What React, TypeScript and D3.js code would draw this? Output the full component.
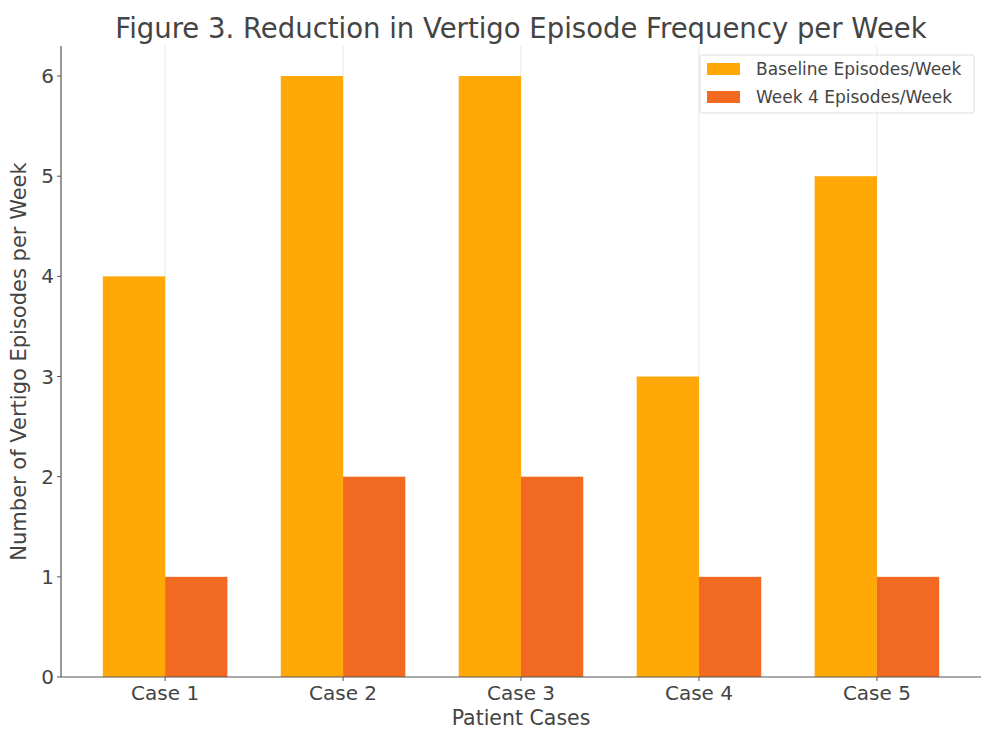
import React from "react";
import * as d3 from "d3";

const categories = ["Case 1", "Case 2", "Case 3", "Case 4", "Case 5"];
const baseline = [4, 6, 6, 3, 5];
const week4 = [1, 2, 2, 1, 1];
const yTicks = [0, 1, 2, 3, 4, 5, 6];
const seriesNames = ["Baseline Episodes/Week", "Week 4 Episodes/Week"];
const colors = ["#FFA807", "#F26A22"];

export default function App() {
  const W = 981, H = 731;
  const left = 61, right = 981, top = 46, bottom = 677;
  const x = d3.scaleLinear().domain([-0.585, 4.585]).range([left, right]);
  const y = d3.scaleLinear().domain([0, 6.3]).range([bottom, top]);
  const bw = 0.35;
  const font = "DejaVu Sans, sans-serif";
  const textColor = "#444";
  return (
    <svg width={W} height={H} style={{ position: "absolute", left: 0, top: 0 }} fontFamily={font}>
      <rect x={0} y={0} width={W} height={H} fill="#fff" />
      {categories.map((c, i) => (
        <line key={"g" + i} x1={x(i)} x2={x(i)} y1={top} y2={bottom} stroke="#e6e6e6" strokeWidth={1} />
      ))}
      {categories.map((c, i) => (
        <g key={"b" + i}>
          <rect x={x(i - bw)} y={y(baseline[i])} width={x(bw) - x(0)} height={y(0) - y(baseline[i])} fill={colors[0]} />
          <rect x={x(i)} y={y(week4[i])} width={x(bw) - x(0)} height={y(0) - y(week4[i])} fill={colors[1]} />
        </g>
      ))}
      <line x1={left} x2={left} y1={top} y2={bottom} stroke="#555" strokeWidth={1.2} />
      <line x1={left} x2={right} y1={bottom} y2={bottom} stroke="#555" strokeWidth={1.2} />
      {yTicks.map((t) => (
        <g key={"yt" + t}>
          <line x1={left - 4} x2={left} y1={y(t)} y2={y(t)} stroke="#555" />
          <text x={left - 7} y={y(t)} dy="0.35em" textAnchor="end" fontSize={20} fill={textColor}>{t}</text>
        </g>
      ))}
      {categories.map((c, i) => (
        <g key={"xt" + i}>
          <line x1={x(i)} x2={x(i)} y1={bottom} y2={bottom + 4} stroke="#555" />
          <text x={x(i)} y={bottom + 23} textAnchor="middle" fontSize={20} fill={textColor}>{c}</text>
        </g>
      ))}
      <text x={(left + right) / 2} y={725} textAnchor="middle" fontSize={20.5} fill={textColor}>Patient Cases</text>
      <text transform={`translate(26,${(top + bottom) / 2 + 0}) rotate(-90)`} textAnchor="middle" fontSize={21} fill={textColor}>Number of Vertigo Episodes per Week</text>
      <text x={(left + right) / 2} y={38} textAnchor="middle" fontSize={27.5} fill={textColor}>Figure 3. Reduction in Vertigo Episode Frequency per Week</text>
      <g>
        <rect x={700} y={55} width={274} height={58} fill="#fff" fillOpacity={0.8} stroke="#ddd" rx={2} />
        {seriesNames.map((s, i) => (
          <g key={"l" + i}>
            <rect x={707} y={63 + i * 28} width={33} height={12} fill={colors[i]} />
            <text x={756} y={69 + i * 28} dy="0.35em" fontSize={17} fill={textColor}>{s}</text>
          </g>
        ))}
      </g>
    </svg>
  );
}
